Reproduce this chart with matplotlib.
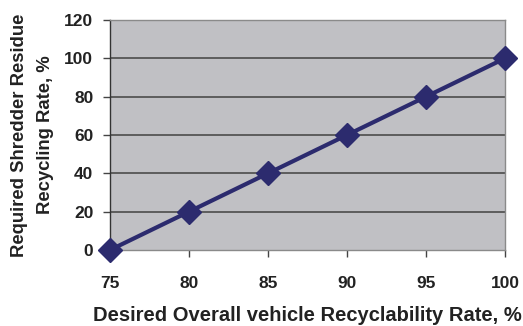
import matplotlib
matplotlib.use('Agg')
import matplotlib.pyplot as plt

# overall vehicle recyclability target vs. required shredder residue recycling
overall_rate = [75, 80, 85, 90, 95, 100]
residue_rate = [0, 20, 40, 60, 80, 100]
x_ticks = [75, 80, 85, 90, 95, 100]
y_ticks = [0, 20, 40, 60, 80, 100, 120]

plt.rcParams['font.family'] = ['Liberation Sans', 'DejaVu Sans']

fig = plt.figure(figsize=(5.23, 3.26), dpi=100)
ax = fig.add_axes([0.2103, 0.2331, 0.7553, 0.7056])
ax.set_facecolor('#c0c0c4')

for y in y_ticks[1:]:
    ax.axhline(y, color='#555555', linewidth=1.3, zorder=1)

ax.plot(overall_rate, residue_rate, color='#2c2b6e', linewidth=3,
        marker='D', markersize=12, markerfacecolor='#2c2b6e',
        markeredgecolor='#2c2b6e', zorder=3, clip_on=False)

ax.set_xlim(75, 100)
ax.set_ylim(0, 120)
ax.set_xticks(x_ticks)
ax.set_yticks(y_ticks)

for side in ['top', 'right', 'bottom']:
    ax.spines[side].set_color('#8a8a8a')
    ax.spines[side].set_linewidth(1.0)
ax.spines['left'].set_color('#333333')
ax.spines['left'].set_linewidth(1.0)

ax.tick_params(axis='both', direction='out', length=5, width=1.0,
               color='#444444', labelsize=12.5, labelcolor='#222222', pad=7)
ax.tick_params(axis='x', pad=14)
for lab in ax.get_xticklabels() + ax.get_yticklabels():
    lab.set_fontweight('bold')

ax.set_xlabel('Desired Overall vehicle Recyclability Rate, %', fontsize=14.5,
              fontweight='bold', color='#222222', labelpad=10.5)
ax.set_ylabel('Required Shredder Residue\nRecycling Rate, %', fontsize=13.3,
              fontweight='bold', color='#222222', labelpad=7,
              linespacing=1.7)

fig.savefig('out.png', dpi=100)
